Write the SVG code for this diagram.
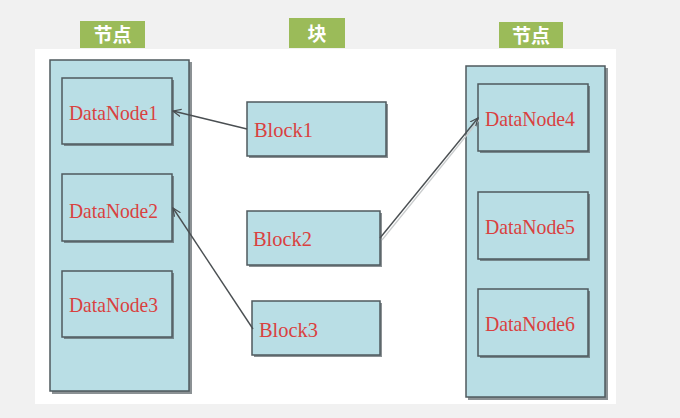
<svg xmlns="http://www.w3.org/2000/svg" width="680" height="418" viewBox="0 0 680 418">
<style>
.lbl rect{fill:#9bbb59}
.lbl text{fill:#fff;font-family:"Noto Sans CJK SC",sans-serif;font-weight:bold;font-size:19px;text-anchor:middle}
.box{fill:#b9dee5;stroke:#4f5a5e;stroke-width:1.5}
.sh{fill:#5a6366;opacity:0.7}
.t{fill:#d9413f;font-family:"Liberation Serif","DejaVu Serif",serif;font-size:21px}
.con{stroke:#4a4f52;stroke-width:1.4;fill:none;marker-end:url(#ah)}
</style>
<defs>
<marker id="ah" viewBox="0 0 10 10" refX="9" refY="5" markerWidth="9" markerHeight="9" markerUnits="userSpaceOnUse" orient="auto">
<path d="M0,1 L9,5 L0,9" fill="none" stroke="#4a4f52" stroke-width="1.4"/>
</marker>
</defs>
<rect width="680" height="418" fill="#f1f1f1"/>
<rect x="35" y="49" width="581" height="355" fill="#ffffff"/>
<g id="label-left" class="lbl"><rect x="80" y="21" width="65" height="27"/><text x="112.5" y="42">节点</text></g>
<g id="label-mid" class="lbl"><rect x="289" y="18" width="56" height="30"/><text x="317" y="41">块</text></g>
<g id="label-right" class="lbl"><rect x="499" y="22" width="64" height="26"/><text x="531" y="43">节点</text></g>
<g id="container-left"><rect class="sh" x="52" y="62" width="140" height="332"/><rect class="box" x="50" y="60" width="139" height="331"/></g>
<g id="container-right"><rect class="sh" x="468" y="68" width="140" height="332"/><rect class="box" x="466" y="66" width="139" height="331"/></g>
<g id="datanode1"><rect class="sh" x="64" y="80" width="110" height="66"/><rect class="box" x="62" y="78" width="110" height="66"/><text class="t" x="69" y="120" textLength="89" lengthAdjust="spacingAndGlyphs">DataNode1</text></g>
<g id="datanode2"><rect class="sh" x="64" y="176" width="110" height="67"/><rect class="box" x="62" y="174" width="110" height="67"/><text class="t" x="69" y="218" textLength="89" lengthAdjust="spacingAndGlyphs">DataNode2</text></g>
<g id="datanode3"><rect class="sh" x="64" y="273" width="110" height="66"/><rect class="box" x="62" y="271" width="110" height="66"/><text class="t" x="69" y="312" textLength="89" lengthAdjust="spacingAndGlyphs">DataNode3</text></g>
<g id="datanode4"><rect class="sh" x="480" y="86" width="110" height="67"/><rect class="box" x="478" y="84" width="110" height="67"/><text class="t" x="485" y="126" textLength="90" lengthAdjust="spacingAndGlyphs">DataNode4</text></g>
<g id="datanode5"><rect class="sh" x="480" y="194" width="110" height="67"/><rect class="box" x="478" y="192" width="110" height="67"/><text class="t" x="485" y="234" textLength="90" lengthAdjust="spacingAndGlyphs">DataNode5</text></g>
<g id="datanode6"><rect class="sh" x="480" y="291" width="110" height="67"/><rect class="box" x="478" y="289" width="110" height="67"/><text class="t" x="485" y="331" textLength="90" lengthAdjust="spacingAndGlyphs">DataNode6</text></g>
<g id="block1"><rect class="sh" x="249" y="104" width="139" height="54"/><rect class="box" x="247" y="102" width="139" height="54"/><text class="t" x="254" y="137" textLength="59" lengthAdjust="spacingAndGlyphs">Block1</text></g>
<g id="block2"><rect class="sh" x="249" y="213" width="133" height="54"/><rect class="box" x="247" y="211" width="133" height="54"/><text class="t" x="253" y="246" textLength="59" lengthAdjust="spacingAndGlyphs">Block2</text></g>
<g id="block3"><rect class="sh" x="254" y="303" width="128" height="54"/><rect class="box" x="252" y="301" width="128" height="54"/><text class="t" x="259" y="337" textLength="59" lengthAdjust="spacingAndGlyphs">Block3</text></g>
<g id="connectors">
<path class="con" d="M247,129 L173,111"/>
<path class="con" d="M253,329 L173,208"/>
<path d="M382,240 L479,120" stroke="#c9cccd" stroke-width="1.2" fill="none"/>
<path class="con" d="M380,238 L478,118"/>
</g>
</svg>
